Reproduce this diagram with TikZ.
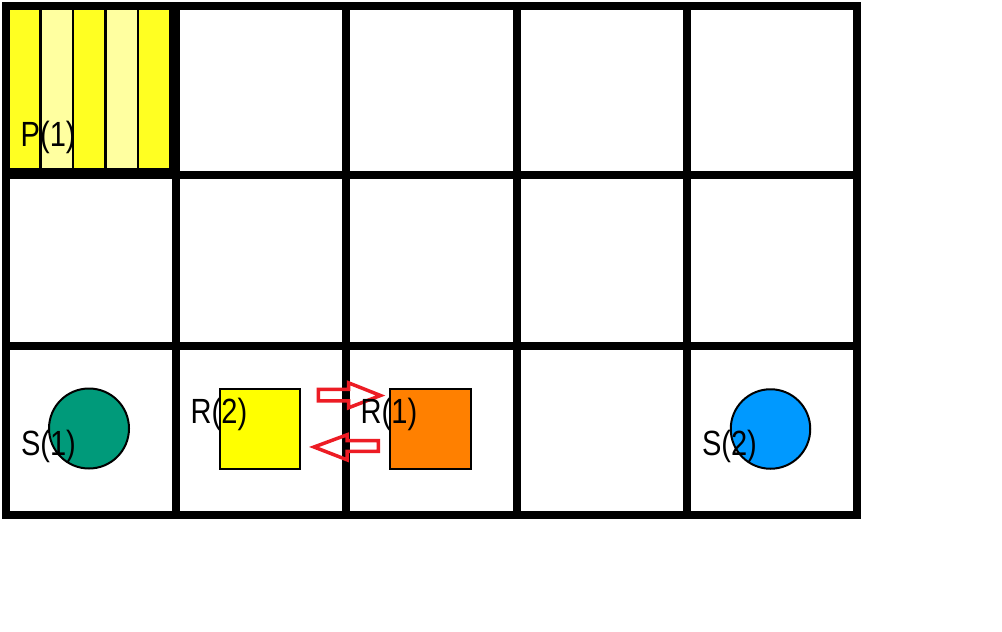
\documentclass[tikz,border=0pt]{standalone}
\usepackage{fontspec}
\setmainfont{Liberation Sans}
\definecolor{stripeA}{HTML}{FFFF22}
\definecolor{stripeB}{HTML}{FFFFA0}
\definecolor{tealS}{HTML}{009A7A}
\definecolor{blueS}{HTML}{0099FF}
\definecolor{orangeR}{HTML}{FF8000}
\definecolor{yellowR}{HTML}{FFFF00}
\definecolor{redA}{HTML}{ED1C24}
\tikzset{
  gridline/.style={line width=8pt, line cap=rect},
  lbl/.style={inner sep=0pt, anchor=base west, font=\fontsize{35}{35}\selectfont},
  source/.style={circle, draw=black, line width=2pt, inner sep=0pt, minimum size=80pt},
  robot/.style={rectangle, draw=black, line width=2pt, inner sep=0pt, minimum size=80.5pt},
  blockarrow/.style={draw=redA, line width=3.5pt, line join=miter}
}
\newcommand{\nar}[1]{\scalebox{0.83}[1]{#1}}
\begin{document}
\begin{tikzpicture}[x=1pt, y=-1pt]
\useasboundingbox[fill=white] (0,0) rectangle (1002,632);
% P(1) cell stripes
\fill[black] (5.5,5.5) rectangle (175.5,175);
\foreach \i/\c in {0/stripeA,1/stripeB,2/stripeA,3/stripeB,4/stripeA}{
  \fill[\c] ({9.5+32.4*\i},9.3) rectangle ({9.5+32.4*\i+29.8},168.3);
}
% grid
\foreach \x in {5.5,175.5,346,516.5,687,857}{
  \draw[gridline] (\x,5.5) -- (\x,515);
}
\foreach \y in {5.5,175,345.5,515}{
  \draw[gridline] (5.5,\y) -- (857,\y);
}
% sources and robots
\node[source, fill=tealS] (s1) at (89,428.5) {};
\node[source, fill=blueS, minimum size=79.5pt] (s2) at (770.5,429) {};
\node[robot, fill=yellowR] (r2) at (260,429) {};
\node[robot, fill=orangeR] (r1) at (430.3,429) {};
% block arrows
\draw[blockarrow] (318.4,389.4) -- (348.5,389.4) -- (348.5,382.8) -- (380.5,395.5)
  -- (348.5,407.8) -- (348.5,400.8) -- (318.4,400.8) -- cycle;
\draw[blockarrow] (378.3,440.7) -- (347,440.7) -- (347,434.8) -- (314,447)
  -- (347,459.8) -- (347,451.3) -- (378.3,451.3) -- cycle;
% labels
\node[lbl] (lp1) at (20.5,146.7) {\nar{P(1)}};
\node[lbl] (ls1) at (20.8,455) {\nar{S(1)}};
\node[lbl] (ls2) at (701.8,455) {\nar{S(2)}};
\node[lbl] (lr2) at (190.5,423.3) {\nar{R(2)}};
\node[lbl] (lr1) at (360.5,423.3) {\nar{R(1)}};
\end{tikzpicture}
\end{document}
